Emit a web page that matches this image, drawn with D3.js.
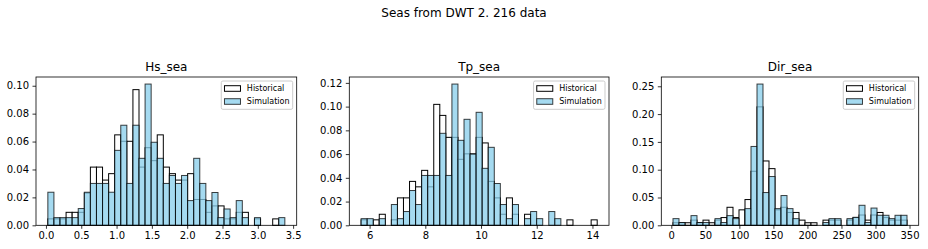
<!DOCTYPE html>
<html>
<head>
<meta charset="utf-8">
<script src="https://cdn.jsdelivr.net/npm/d3@7"></script>
<style>
  body { margin: 0; background: #fff; }
  svg { display: block; font-family: 'DejaVu Sans', sans-serif; }
</style>
</head>
<body>
<svg id="chart" width="928" height="249"></svg>
<script>
/**
 * @fileoverview Seas from DWT: historical vs simulated histograms.
 */

// Bin span (first edge, last edge); every panel has 39 equal bins.
var BIN_COUNT = 39;
var hsRange = [0.027, 3.383];
var tpRange = [5.695, 14.17];
var dirRange = [2.5, 346.3];

// Probabilities per bin.
var hsHistorical = [0.0046, 0.0046, 0.0046, 0.0093, 0.0093, 0.0093, 0.0231,
  0.0417, 0.0417, 0.0324, 0.0370, 0.0648, 0.0602, 0.0602, 0.0972, 0.0417,
  0.0556, 0.0463, 0.0648, 0.0417, 0.0370, 0.0324, 0.0324, 0.0370, 0.0185,
  0.0185, 0.0093, 0.0139, 0.0139, 0.0046, 0.0046, 0.0093, 0.0093, 0, 0.0046,
  0, 0, 0.0046, 0];
var hsSimulation = [0.0237, 0.0055, 0.0055, 0.0055, 0.0055, 0.0120, 0.0237,
  0.0300, 0.0300, 0.0300, 0.0237, 0.0537, 0.0717, 0.0300, 0.0717, 0.0480,
  0.1012, 0.0595, 0.0480, 0.0300, 0.0357, 0.0300, 0.0357, 0.0177, 0.0480,
  0.0300, 0.0177, 0.0235, 0.0055, 0.0117, 0.0055, 0.0177, 0.0055, 0, 0.0055,
  0, 0, 0, 0.0055];

var tpHistorical = [0.0046, 0, 0.0046, 0.0093, 0, 0.0046, 0.0231, 0.0231,
  0.0370, 0.0324, 0.0463, 0.0324, 0.1019, 0.0926, 0.0741, 0.0741, 0.0556,
  0.0602, 0.0602, 0.0741, 0.0694, 0.0370, 0.0231, 0.0093, 0.0231, 0.0093, 0,
  0.0093, 0, 0, 0, 0, 0, 0, 0.0046, 0, 0, 0, 0.0046];
var tpSimulation = [0.0056, 0.0056, 0, 0.0056, 0, 0.0175, 0.0056, 0.0116,
  0.0293, 0.0175, 0.0420, 0.0420, 0.0420, 0.0775, 0.0420, 0.1190, 0.0716,
  0.0893, 0.0600, 0.0952, 0.0480, 0.0657, 0.0352, 0.0175, 0.0056, 0.0175, 0,
  0.0056, 0.0116, 0.0056, 0, 0.0116, 0.0056, 0, 0, 0, 0, 0, 0];

var dirHistorical = [0.0046, 0.0046, 0.0046, 0.0093, 0.0046, 0.0093, 0.0046,
  0.0093, 0.0139, 0.0324, 0.0139, 0.0278, 0.0463, 0.0972, 0.2130, 0.1157,
  0.1019, 0.0278, 0.0324, 0.0231, 0.0231, 0.0093, 0.0046, 0.0046, 0, 0.0093,
  0.0093, 0.0093, 0, 0.0093, 0.0139, 0.0185, 0.0093, 0.0185, 0.0231, 0.0139,
  0.0093, 0.0093, 0.0093];
var dirSimulation = [0.012, 0.005, 0, 0.0174, 0.005, 0.005, 0, 0.012, 0.005,
  0.0174, 0.012, 0, 0.030, 0.1418, 0.254, 0.0589, 0.0877, 0.030, 0.0535,
  0.030, 0.012, 0, 0, 0, 0, 0.005, 0.012, 0.012, 0, 0.012, 0.0144, 0.036,
  0.005, 0.031, 0.018, 0.018, 0.012, 0.018, 0.018];

// Tick values.
var hsTicks = [0, 0.5, 1, 1.5, 2, 2.5, 3, 3.5];
var tpTicks = [6, 8, 10, 12, 14];
var dirTicks = [0, 50, 100, 150, 200, 250, 300, 350];
var hsYTicks = [0, 0.02, 0.04, 0.06, 0.08, 0.10];
var tpYTicks = [0, 0.02, 0.04, 0.06, 0.08, 0.10, 0.12];
var dirYTicks = [0, 0.05, 0.10, 0.15, 0.20, 0.25];

var seriesNames = ['Historical', 'Simulation'];

var SKY = '#87ceeb';
var ALPHA = 0.75;
var TOP = 77;
var BOTTOM = 225.3;

var panels = [
  {title: 'Hs_sea', range: hsRange, hist: hsHistorical, sim: hsSimulation,
    xTicks: hsTicks, yTicks: hsYTicks, xFormat: '.1f', left: 36, right: 296.7},
  {title: 'Tp_sea', range: tpRange, hist: tpHistorical, sim: tpSimulation,
    xTicks: tpTicks, yTicks: tpYTicks, xFormat: 'd', left: 349.3, right: 609},
  {title: 'Dir_sea', range: dirRange, hist: dirHistorical, sim: dirSimulation,
    xTicks: dirTicks, yTicks: dirYTicks, xFormat: 'd', left: 661.3,
    right: 918.7}
];

var svg = d3.select('#chart');

svg.append('text')
  .attr('x', 464)
  .attr('y', 16.5)
  .attr('text-anchor', 'middle')
  .style('font-size', '12px')
  .text('Seas from DWT 2. 216 data');

/**
 * Draws bars of one series.
 * @param {!d3} g
 * @param {!Array<number>} values
 * @param {!Array<number>} edges
 * @param {!Function} x
 * @param {!Function} y
 * @param {boolean} isSim
 */
function drawBars(g, values, edges, x, y, isSim) {
  var bars = g.append('g').selectAll('rect')
    .data(values.map(function(v, i) { return {v: v, i: i}; })
      .filter(function(d) { return d.v > 0; }))
    .join('rect')
    .attr('x', function(d) { return x(edges[d.i]); })
    .attr('width', function(d) { return x(edges[d.i + 1]) - x(edges[d.i]); })
    .attr('y', function(d) { return y(d.v); })
    .attr('height', function(d) { return y(0) - y(d.v); })
    .attr('stroke', '#000')
    .attr('stroke-width', 1);
  if (isSim) {
    bars.attr('fill', SKY)
      .attr('fill-opacity', ALPHA)
      .attr('stroke-opacity', ALPHA);
  } else {
    bars.attr('fill', '#fff');
  }
}

/**
 * Draws the legend in the upper right corner of a panel.
 * @param {!d3} g
 * @param {number} width panel width
 */
function drawLegend(g, width) {
  var fs = 8;
  var legend = g.append('g');
  var frame = legend.append('rect');
  var maxText = 0;
  seriesNames.forEach(function(name, i) {
    var cy = 7.5 + i * 13;
    var patch = legend.append('rect')
      .attr('x', 0.4 * fs)
      .attr('y', cy - 2.8)
      .attr('width', 2 * fs)
      .attr('height', 0.7 * fs)
      .attr('stroke', '#000')
      .attr('stroke-width', 1);
    if (i == 0) {
      patch.attr('fill', '#fff');
    } else {
      patch.attr('fill', SKY)
        .attr('fill-opacity', ALPHA)
        .attr('stroke-opacity', ALPHA);
    }
    var label = legend.append('text')
      .attr('x', 3.2 * fs)
      .attr('y', cy)
      .attr('dy', '0.35em')
      .style('font-size', fs + 'px')
      .text(name);
    maxText = Math.max(maxText, label.node().getComputedTextLength());
  });
  var w = 3.2 * fs + maxText + 0.4 * fs;
  frame.attr('width', w)
    .attr('height', 28.3)
    .attr('rx', 1.6)
    .attr('fill', '#fff')
    .attr('fill-opacity', 0.8)
    .attr('stroke', '#cccccc')
    .attr('stroke-width', 1);
  legend.attr('transform', 'translate(' + (width - 4 - w) + ',4)');
}

panels.forEach(function(p) {
  var width = p.right - p.left;
  var height = BOTTOM - TOP;
  var lo = p.range[0];
  var hi = p.range[1];
  var span = hi - lo;
  var edges = d3.range(BIN_COUNT + 1).map(function(i) {
    return lo + i * span / BIN_COUNT;
  });
  var ymax = d3.max(p.hist.concat(p.sim)) * 1.05;

  var x = d3.scaleLinear()
    .domain([lo - 0.05 * span, hi + 0.05 * span])
    .range([0, width]);
  var y = d3.scaleLinear()
    .domain([0, ymax])
    .range([height, 0]);

  var g = svg.append('g')
    .attr('transform', 'translate(' + p.left + ',' + TOP + ')');

  drawBars(g, p.hist, edges, x, y, false);
  drawBars(g, p.sim, edges, x, y, true);

  var xAxis = g.append('g')
    .attr('transform', 'translate(0,' + height + ')')
    .call(d3.axisBottom(x)
      .tickValues(p.xTicks)
      .tickFormat(d3.format(p.xFormat))
      .tickSize(3.5)
      .tickPadding(3.5));
  var yAxis = g.append('g')
    .call(d3.axisLeft(y)
      .tickValues(p.yTicks)
      .tickFormat(d3.format('.2f'))
      .tickSize(3.5)
      .tickPadding(3.5));
  [xAxis, yAxis].forEach(function(a) {
    a.select('.domain').remove();
    a.selectAll('line').attr('stroke', '#000').attr('stroke-width', 0.8);
    a.selectAll('text')
      .attr('fill', '#000')
      .style('font-size', '10px')
      .style('font-family', "'DejaVu Sans', sans-serif");
  });

  // frame
  g.append('rect')
    .attr('width', width)
    .attr('height', height)
    .attr('fill', 'none')
    .attr('stroke', '#000')
    .attr('stroke-width', 0.8);

  g.append('text')
    .attr('x', width / 2)
    .attr('y', -6)
    .attr('text-anchor', 'middle')
    .style('font-size', '12px')
    .text(p.title);

  drawLegend(g, width);
});
</script>
</body>
</html>
